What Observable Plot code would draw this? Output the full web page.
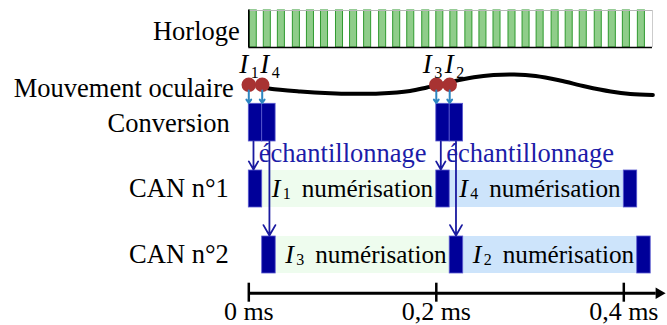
<!DOCTYPE html>
<html><head><meta charset="utf-8">
<script src="https://cdn.jsdelivr.net/npm/d3@7"></script>
<script src="https://cdn.jsdelivr.net/npm/@observablehq/plot@0.6"></script>
<style>
html,body{margin:0;padding:0;background:#fff;}
#chart{width:667px;height:325px;overflow:hidden;}
</style></head><body><div id="chart"></div>
<script>
// ---- DATA ----
const laneNames = ["Horloge", "Mouvement oculaire", "Conversion", "CAN n°1", "CAN n°2"];

// clock pulses: start times (ms), pulse width, end of clock strip
const clockStarts = [0.001, 0.016, 0.031, 0.047, 0.062, 0.077, 0.093, 0.108, 0.123, 0.139,
  0.154, 0.169, 0.185, 0.200, 0.215, 0.231, 0.246, 0.261, 0.277, 0.292,
  0.307, 0.323, 0.338, 0.353, 0.369, 0.384, 0.399, 0.415];
const clockPulse = 0.0075;
const clockEnd = 0.4306;

// eye movement trace (time in ms, eye position in arbitrary units)
const eyeTimes = [0.0146, 0.023, 0.055, 0.087, 0.108, 0.140, 0.172, 0.190, 0.200, 0.215,
  0.240, 0.261, 0.283, 0.306, 0.332, 0.359, 0.386, 0.407, 0.431];
const eyePos = [8.5, 6.7, 4, 2.3, 1.7, 2, 4.5, 8, 10, 13.5,
  18.3, 20.5, 21, 19.5, 15, 9, 4, 1.5, 0.5];

// samples I1, I4, I3, I2
const sampleIndex = ["1", "4", "3", "2"];
const sampleTimes = [0, 0.0143, 0.2, 0.2143];
const conversionTime = 0.0143;
const transferTimes = [0.005, 0.022, 0.2048, 0.221];
const transferTarget = ["CAN n°1", "CAN n°2", "CAN n°1", "CAN n°2"];

// ADC timelines: alternating sampling / digitizing boundaries (ms)
const can1Bounds = [0, 0.0143, 0.2, 0.2143, 0.4, 0.4143];
const can2Bounds = [0.0143, 0.0287, 0.2143, 0.2287, 0.4143, 0.4287];
const can1Digitized = ["1", "4"];
const can2Digitized = ["3", "2"];

// time axis
const axisTicks = [0, 0.2, 0.4];
const axisLabels = ["0 ms", "0,2 ms", "0,4 ms"];
const axisEnd = 0.4466;

// ---- LAYOUT (pixels) ----
const lane = {
  "Horloge": {top: 10, bottom: 47, base: 39.5, dx: -9},
  "Mouvement oculaire": {base: 96.5, dx: -15, zero: 95, dot: 84.3},
  "Conversion": {top: 103.3, bottom: 141, base: 131.5, dx: -19},
  "CAN n°1": {top: 170, bottom: 207, base: 196, dx: -20},
  "CAN n°2": {top: 236, bottom: 273, base: 262.5, dx: -20}
};
const labelDx = [-9.5, -2, -13.5, -5];
const axisY = 292.7;

const NAVY = "#000099", NAVY_EDGE = "#5a5ad0";
const SERIF = "'Liberation Serif', 'Times New Roman', Times, serif";

// ---- build tables ----
const eyeData = eyeTimes.map((t, i) => ({t, v: eyePos[i]}));
const samples = sampleIndex.map((n, i) => ({n, t: sampleTimes[i], tr: transferTimes[i], target: transferTarget[i]}));
const segs = [];
function addSegs(bounds, name, digits) {
  for (let i = 0; i < bounds.length - 1; i++) {
    const dark = i % 2 === 0;
    segs.push({lane: name, x1: bounds[i], x2: bounds[i + 1],
      kind: dark ? "dark" : (i === 1 ? "first" : "second"),
      digit: dark ? null : digits[(i - 1) / 2]});
  }
}
addSegs(can1Bounds, "CAN n°1", can1Digitized);
addSegs(can2Bounds, "CAN n°2", can2Digitized);
const light = segs.filter(d => d.kind !== "dark");
const dark = segs.filter(d => d.kind === "dark");
const clk = lane["Horloge"], eye = lane["Mouvement oculaire"], conv = lane["Conversion"];

const marks = [
  // ADC light bands
  Plot.rect(light, {x1: "x1", x2: "x2", y1: d => lane[d.lane].top, y2: d => lane[d.lane].bottom,
    fill: d => d.kind === "first" ? "#eefcee" : "#cde4fb"}),
  Plot.rect(dark, {x1: "x1", x2: "x2", y1: d => lane[d.lane].top, y2: d => lane[d.lane].bottom,
    fill: NAVY, stroke: NAVY_EDGE, strokeWidth: 0.8}),
  // conversion blocks
  Plot.rect(samples, {x1: "t", x2: d => d.t + conversionTime, y1: () => conv.top, y2: () => conv.bottom,
    fill: NAVY, stroke: NAVY_EDGE, strokeWidth: 0.8}),
  // clock
  Plot.rect(clockStarts, {x1: d => d, x2: d => d + clockPulse, y1: () => clk.top, y2: () => clk.bottom,
    fill: "#8fcd8a", stroke: "#2f9a2f", strokeWidth: 1}),
  Plot.ruleY([clk.top], {x1: 0, x2: clockEnd, stroke: "#b8b8b8", strokeWidth: 1.2}),
  Plot.ruleX([clockEnd], {y1: clk.top, y2: clk.bottom, stroke: "#cccccc", strokeWidth: 1}),
  Plot.ruleY([clk.bottom], {x1: 0, x2: clockEnd, stroke: "black", strokeWidth: 1.6}),
  Plot.ruleX([0], {y1: clk.top - 0.5, y2: clk.bottom, stroke: "black", strokeWidth: 1.6}),
  // eye movement
  Plot.line(eyeData, {x: "t", y: d => eye.zero - d.v, stroke: "black", strokeWidth: 4, curve: "catmull-rom"}),
  Plot.dot(samples, {x: "t", y: () => eye.dot, r: 7.3, fill: "#a83232", stroke: "none"}),
  // sample arrows
  Plot.arrow(samples, {x1: "t", x2: "t", y1: () => 90, y2: () => 102.5, stroke: "#2e86c1",
    strokeWidth: 2, headLength: 7, headAngle: 70}),
  // sample labels I_n
  ...samples.map((s, i) => Plot.text([s], {x: "t", y: () => 72, text: () => "I", dx: labelDx[i],
    textAnchor: "start", lineAnchor: "bottom", fontSize: 27, fontStyle: "italic", fill: "black"})),
  ...samples.map((s, i) => Plot.text([s], {x: "t", y: () => 77.5, text: "n", dx: labelDx[i] + 11.5,
    textAnchor: "start", lineAnchor: "bottom", fontSize: 16, fill: "black"})),
  // échantillonnage
  Plot.text(samples.filter(d => d.target === "CAN n°1"), {x: "t", y: () => 161, text: () => "échantillonnage",
    dx: 10, textAnchor: "start", lineAnchor: "bottom", fontSize: 26.5, fill: "#1c1ca8"}),
  // numérisation labels
  Plot.text(light, {x: "x1", y: d => lane[d.lane].base, text: () => "I", dx: 9.5,
    textAnchor: "start", lineAnchor: "bottom", fontSize: 26, fontStyle: "italic", fill: "black"}),
  Plot.text(light, {x: "x1", y: d => lane[d.lane].base + 2, text: "digit", dx: 20.5,
    textAnchor: "start", lineAnchor: "bottom", fontSize: 16, fill: "black"}),
  Plot.text(light, {x: "x1", y: d => lane[d.lane].base, text: () => "numérisation", dx: 39.5,
    textAnchor: "start", lineAnchor: "bottom", fontSize: 25.2, fill: "black"}),
  // transfer arrows
  Plot.arrow(samples, {x1: "tr", x2: "tr", y1: () => conv.bottom, y2: d => lane[d.target].top - 1,
    stroke: "#1a1aa0", strokeWidth: 1.8, headLength: 10, headAngle: 60}),
  // lane labels
  ...laneNames.map(name => Plot.text([name], {x: () => 0, y: () => lane[name].base, text: d => d,
    dx: lane[name].dx, textAnchor: "end", lineAnchor: "bottom", fontSize: 26.5, fill: "black"})),
  // time axis
  Plot.ruleY([axisY], {x1: 0, x2: axisEnd - 0.012, stroke: "black", strokeWidth: 3}),
  Plot.ruleX(axisTicks, {y1: () => 282.7, y2: () => 301.7, stroke: "black", strokeWidth: 2.5}),
  Plot.dot([axisEnd], {x: d => d - 0.0091, y: () => axisY, symbol: "triangle2", rotate: 90, r: 5.5, fill: "black", stroke: "none"}),
  Plot.text(axisTicks, {x: d => d, y: () => 319, text: (d, i) => axisLabels[i], textAnchor: "middle",
    lineAnchor: "bottom", fontSize: 26, fill: "black"})
];

const chart = Plot.plot({
  width: 667, height: 325,
  marginTop: 0, marginRight: 0, marginBottom: 0, marginLeft: 0,
  x: {domain: [0, 0.4], range: [248.3, 623.3], axis: null},
  y: {domain: [0, 325], range: [0, 325], axis: null},
  style: {fontFamily: SERIF, background: "white", overflow: "visible"},
  marks
});
document.getElementById("chart").appendChild(chart);
</script></body></html>
